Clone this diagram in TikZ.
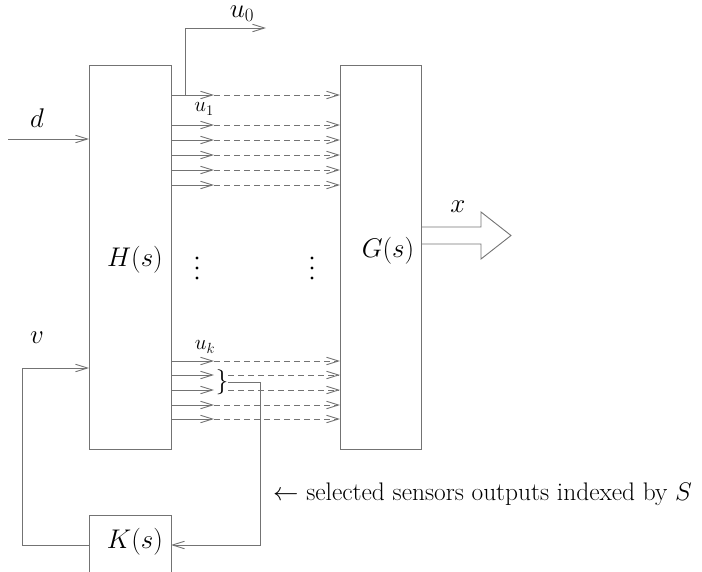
\RequirePackage{fix-cm}
\documentclass[tikz,border=0pt]{standalone}
\usetikzlibrary{arrows.meta}
\begin{document}
\begin{tikzpicture}[x=1pt,y=-1pt,
  line/.style={draw=black!55,line width=0.9pt},
  blk/.style={line,rectangle,inner sep=0pt,fill=none},
  arr/.style={line,-{Straight Barb[length=12pt,width=7.5pt]}},
  darr/.style={line,dash pattern=on 6pt off 4pt,-{Straight Barb[length=12pt,width=7.5pt]}},
  lab/.style={inner sep=0pt,font=\fontsize{27}{30}\selectfont},
  slab/.style={inner sep=0pt,font=\fontsize{21}{24}\selectfont},
  txt/.style={inner sep=0pt,font=\fontsize{25.4}{28}\selectfont,anchor=west},
  dot/.style={circle,fill=black,inner sep=0pt,minimum size=3.2pt}]
\useasboundingbox (0,0) rectangle (702,571);
\begin{scope}
\clip (0,0) rectangle (702,571);
% blocks
\node[blk,minimum width=82pt,minimum height=384pt] (H) at (130,257) {};
\node[blk,minimum width=81pt,minimum height=384pt] (G) at (380.5,257) {};
\node[blk,minimum width=82pt,minimum height=80pt] (K) at (130,555) {};
\end{scope}
\node[lab] (Hl) at (135,260) {$H(s)$};
\node[lab] (Gl) at (388,251) {$G(s)$};
\node[lab] (Kl) at (135,542) {$K(s)$};
% inputs d and v
\coordinate (din) at (8,139);
\coordinate (dH) at (89,139);
\draw[arr] (din) -- (dH);
\node[lab] (dl) at (37,118) {$d$};
\coordinate (vH) at (89,368);
\coordinate (vc) at (22,368);
\coordinate (Kw) at (89,545);
\coordinate (Kc) at (22,545);
\draw[arr] (Kw) -- (Kc) -- (vc) -- (vH);
\node[lab] (vl) at (37,338) {$v$};
% u0 branch
\coordinate (u0b) at (185,95);
\coordinate (u0c) at (185,28);
\coordinate (u0e) at (266,28);
\draw[arr] (u0b) -- (u0c) -- (u0e);
\node[lab] (u0l) at (242,14) {$u_0$};
% top rows
\foreach \y/\n in {95/a,125/b,140/c,155/d,170/e,185/f}{
  \coordinate (s\n) at (171,\y);
  \coordinate (m\n) at (214,\y);
  \coordinate (g\n) at (340,\y);
  \draw[arr] (s\n) -- (m\n);
  \draw[darr] (m\n) -- (g\n);
}
\node[slab] (u1l) at (204,109) {$u_1$};
% bottom rows
\foreach \y/\n in {361/p,375/q,390/r,405/s,419/t}{
  \coordinate (s\n) at (171,\y);
  \coordinate (m\n) at (214,\y);
  \coordinate (g\n) at (340,\y);
  \draw[arr] (s\n) -- (m\n);
}
\coordinate (bq) at (228,375);
\coordinate (br) at (228,390);
\draw[darr] (mp) -- (gp);
\draw[darr] (bq) -- (gq);
\draw[darr] (br) -- (gr);
\draw[darr] (ms) -- (gs);
\draw[darr] (mt) -- (gt);
\node[slab] (ukl) at (205,347) {$u_k$};
\node[inner sep=0pt,font=\fontsize{25}{28}\selectfont] (brace) at (222,382) {$\}$};
\coordinate (c1) at (260,382);
\coordinate (Ke) at (171,545);
\coordinate (c2) at (260,545);
\draw[arr] (brace.east) -- (c1) -- (c2) -- (Ke);
% dots
\foreach \x/\n in {197/l,312/r}{
  \node[dot] (\n1) at (\x,258) {};
  \node[dot] (\n2) at (\x,268) {};
  \node[dot] (\n3) at (\x,278) {};
}
% big output arrow
\draw[line] (421,227) -- (481,227) -- (481,212) -- (511,235.5) -- (481,259) -- (481,244) -- (421,244);
\node[lab] (xl) at (458,207) {$x$};
% annotation
\node[txt] (note) at (273,494) {$\leftarrow$ selected sensors outputs indexed by $S$};
\end{tikzpicture}
\end{document}
